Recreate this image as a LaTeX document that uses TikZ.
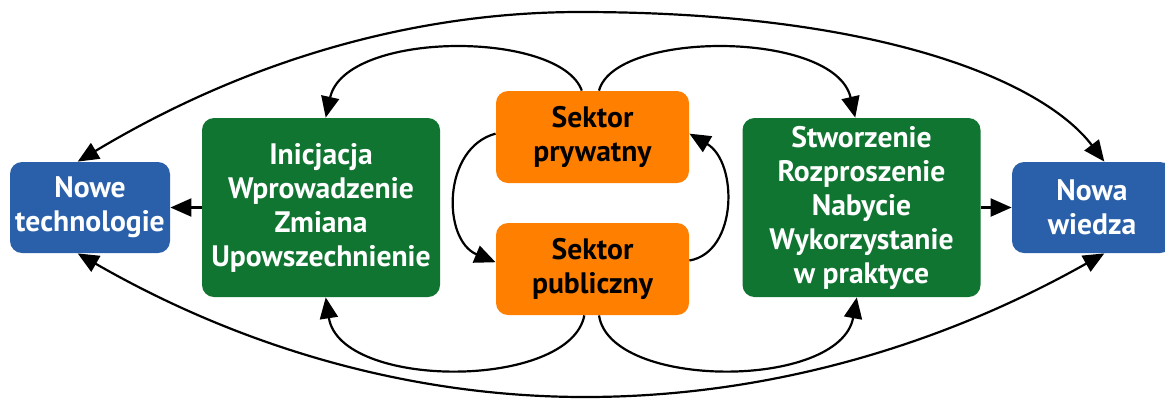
\documentclass[tikz,border=0pt]{standalone}
\usepackage{fontspec}
\setmainfont{PT Sans}
\usetikzlibrary{arrows.meta}
\definecolor{boxblue}{RGB}{42,96,170}
\definecolor{boxgreen}{RGB}{17,117,50}
\definecolor{boxorange}{RGB}{255,128,0}

\begin{document}
\begin{tikzpicture}[x=0.5pt,y=-0.5pt,
            box/.style={rounded corners=6pt, align=center, inner sep=0pt,
                font=\fontsize{14.8}{17}\selectfont\bfseries},
            bluebox/.style={box, fill=boxblue, text=white, minimum width=80pt, minimum height=45.5pt},
            greenbox/.style={box, fill=boxgreen, text=white, minimum width=119pt, minimum height=89.5pt},
            orangebox/.style={box, fill=boxorange, text=black, minimum width=96.5pt, minimum height=46pt},
            link/.style={-{Triangle[length=10.5pt,width=9pt]}, line width=1.1pt},
            twoway/.style={{Triangle[length=10.5pt,width=9pt]}-{Triangle[length=10.5pt,width=9pt]}, line width=1.1pt}]
            \useasboundingbox (0,0) rectangle (1165,398);
            \node[bluebox] (nt) at (90,207.5) {Nowe\\technologie};
            \node[greenbox] (gl) at (321,207.5) {Inicjacja\\Wprowadzenie\\Zmiana\\Upowszechnienie};
            \node[orangebox] (op) at (592.5,137) {Sektor\\prywatny};
            \node[orangebox] (opub) at (592.5,269) {Sektor\\publiczny};
            \node[greenbox] (gr) at (861.5,207.5) {Stworzenie\\Rozproszenie\\Nabycie\\Wykorzystanie\\w praktyce};
            \node[bluebox] (nw) at (1092,207.5) {Nowa\\wiedza};
            % outer arcs
            \draw[twoway] (nt.105) .. controls (244.7,61.3) and (412.3,12) .. (580,12)
                .. controls (880,12) and (1043,81) .. (nw.75);
            \draw[twoway] (nt.255) .. controls (246.3,350.3) and (415.7,397) .. (585,397)
                .. controls (758.7,397) and (932.3,350.3) .. (nw.285);
            % sectors to stages
            \draw[link] (op.103) .. controls (560,30) and (345,30) .. (gl.87);
            \draw[link] (op.82) .. controls (615,30) and (835,30) .. (gr.94);
            \draw[link] (opub.260) .. controls (570,390) and (340,390) .. (gl.273);
            \draw[link] (opub.278) .. controls (610,390) and (840,390) .. (gr.267);
            % between sectors
            \draw[link] (op.178) .. controls (442,148) and (442,240) .. (opub.176);
            \draw[link] (opub.5) .. controls (738,252) and (738,162) .. (op.2);
            \draw[link] (gl.west) -- (nt.east);
            \draw[link] (gr.east) -- (nw.west);
        \end{tikzpicture}
\end{document}
